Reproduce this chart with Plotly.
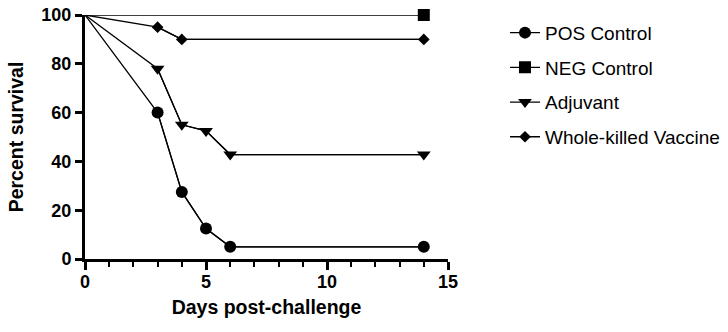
import plotly.graph_objects as go

days_pos = [0, 3, 4, 5, 6, 14]
surv_pos = [100, 60, 27.5, 12.5, 5, 5]
days_neg = [0, 14]
surv_neg = [100, 100]
days_adj = [0, 3, 4, 5, 6, 14]
surv_adj = [100, 78, 55, 52.5, 42.8, 42.8]
days_wkv = [0, 3, 4, 14]
surv_wkv = [100, 95, 90, 90]

names = ["POS Control", "NEG Control", "Adjuvant", "Whole-killed Vaccine"]
symbols = ["circle", "square", "triangle-down", "diamond"]
sizes = [12, 12, 12, 9]
series = [(days_pos, surv_pos), (days_neg, surv_neg), (days_adj, surv_adj), (days_wkv, surv_wkv)]

FONT = "Liberation Sans, Arial, sans-serif"

fig = go.Figure()
for (xs, ys), name, sym, sz in zip(series, names, symbols, sizes):
    # line from the origin (no marker at day 0)
    fig.add_trace(go.Scatter(
        x=xs, y=ys, mode="lines", showlegend=False,
        line=dict(color="black", width=1.3), cliponaxis=False, hoverinfo="skip",
    ))
    fig.add_trace(go.Scatter(
        x=xs[1:], y=ys[1:], name=name, mode="lines+markers",
        line=dict(color="black", width=1.3),
        marker=dict(symbol=sym, size=sz, color="black", opacity=1,
                    line=dict(color="black", width=0)),
        cliponaxis=False, legendgroup=name,
    ))

fig.update_layout(
    width=728, height=332,
    margin=dict(l=85, r=280, t=15, b=73, autoexpand=False),
    plot_bgcolor="white", paper_bgcolor="white",
    font=dict(family=FONT, color="black"),
    showlegend=True,
    legend=dict(
        x=1.157, xref="paper", y=1.005, yref="paper", yanchor="top", xanchor="left",
        font=dict(size=19, color="black", family=FONT), tracegroupgap=7,
        bgcolor="rgba(0,0,0,0)",
    ),
    xaxis=dict(
        range=[0, 15], tickvals=[0, 5, 10, 15], showgrid=False, zeroline=False,
        showline=True, linewidth=3, linecolor="black",
        ticks="outside", ticklen=8, tickwidth=2.5, tickcolor="black",
        ticklabelstandoff=-4, ticklabeloverflow="allow",
        tickfont=dict(size=18, family=FONT, weight="bold"),
        minor=dict(tickvals=[1, 2, 3, 4, 6, 7, 8, 9, 11, 12, 13, 14], ticks="outside", ticklen=5, tickwidth=2, tickcolor="black"),
        title=dict(text="<b>Days post-challenge</b>", font=dict(size=19.5), standoff=10),
    ),
    yaxis=dict(
        range=[0, 100], tickvals=[0, 20, 40, 60, 80, 100], showgrid=False, zeroline=False,
        showline=True, linewidth=3, linecolor="black",
        ticks="outside", ticklen=7, tickwidth=2.5, tickcolor="black",
        ticklabeloverflow="allow",
        tickfont=dict(size=18, family=FONT, weight="bold"),
        title=dict(text="<b>Percent survival</b>", font=dict(size=19.5), standoff=13),
    ),
)

fig.write_html("out.html", config={"displayModeBar": False},
               post_script="document.body.style.margin='0px';")
